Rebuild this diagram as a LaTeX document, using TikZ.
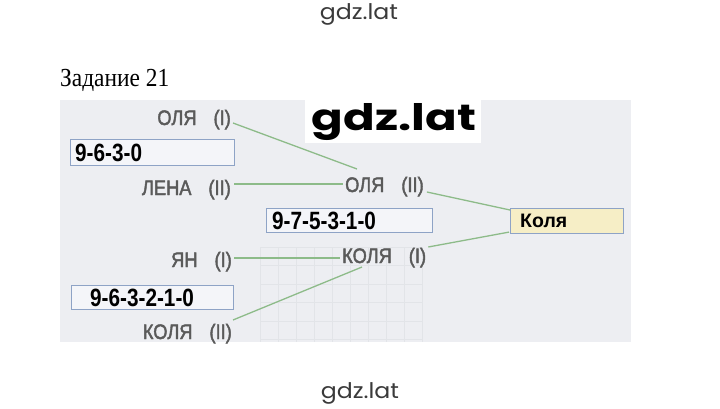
\documentclass[tikz,border=0pt]{standalone}
\usepackage{fontspec}
\usetikzlibrary{calc}
\newfontfamily\labfont[FakeStretch=0.87,FakeBold=2]{Liberation Sans}
\newfontfamily\numfont[FakeStretch=0.83]{Liberation Sans}
\newfontfamily\kolfont{Liberation Sans}
\newfontfamily\serfont[FakeStretch=0.9]{Liberation Serif}
\newfontfamily\wmfont[FakeStretch=1.1]{Poppins}
\newfontfamily\wmbigfont[FakeStretch=1.28]{Poppins}
\definecolor{photobg}{HTML}{EDEEF2}
\definecolor{gridc}{HTML}{E2E4E8}
\definecolor{labgray}{HTML}{5A5A5A}
\definecolor{boxblue}{HTML}{8EA3C6}
\definecolor{boxfill}{HTML}{F4F5F9}
\definecolor{kolfill}{HTML}{F6EEC6}
\definecolor{linkgreen}{HTML}{8DBB89}
\definecolor{wmgray}{HTML}{3A3A3A}
\tikzset{
  lab/.style={font=\labfont\fontsize{21}{24}\selectfont, text=labgray, inner sep=0pt},
  numbox/.style={draw=boxblue, fill=boxfill, line width=1.1pt, anchor=north west, inner sep=0pt},
  numtext/.style={font=\numfont\bfseries\fontsize{25}{28}\selectfont, text=black, inner sep=0pt, anchor=west},
  link/.style={draw=linkgreen, line width=1.3pt},
  wmsmall/.style={font=\wmfont\fontsize{21.5}{24}\selectfont, text=wmgray, inner sep=0pt, anchor=base},
}
\newcommand{\gapI}{\hspace{17pt}}
\begin{document}
\begin{tikzpicture}[x=1pt,y=-1pt]
\useasboundingbox (0,0) rectangle (720,409);
\fill[white] (0,0) rectangle (720,409);
% photo background
\fill[photobg] (60,100) rectangle (631,342);
% faint grid
\foreach \gx in {260,278,...,422} \draw[gridc, line width=0.6pt] (\gx,247) -- (\gx,342);
\foreach \gy in {247,265.5,...,342} \draw[gridc, line width=0.6pt] (260,\gy) -- (422,\gy);

% watermarks
\node[wmsmall] (wmtop) at (359,20) {gdz.lat};
\node[wmsmall] (wmbot) at (360,398) {gdz.lat};
\fill[white] (305,99) rectangle (481,143);
\node[font=\wmbigfont\bfseries\fontsize{36.5}{40}\selectfont, text=black, inner sep=0pt, anchor=base] (wmmid) at (394,131) {gdz.lat};

% title
\node[font=\serfont\fontsize{26}{30}\selectfont, inner sep=0pt, anchor=base west] (title) at (60,87) {Задание 21};

% left labels
\node[lab, anchor=base east] (olya1) at (231,125) {ОЛЯ\gapI(I)};
\node[lab, anchor=base east] (lena) at (231,195) {ЛЕНА\gapI(II)};
\node[lab, anchor=base east] (yan) at (232,267) {ЯН\gapI(I)};
\node[lab, anchor=base east] (kolya2) at (232,339) {КОЛЯ\gapI(II)};
% middle labels
\node[lab, anchor=base west] (olya2) at (345,192) {ОЛЯ\gapI(II)};
\node[lab, anchor=base west] (kolya1) at (342,263) {КОЛЯ\gapI(I)};

% number boxes
\node[numbox, minimum width=164pt, minimum height=26pt] (b1) at (70,139) {};
\node[numtext] (t1) at ($(b1.west)+(5,0)$) {9-6-3-0};
\node[numbox, minimum width=166pt, minimum height=24pt] (b2) at (266,208) {};
\node[numtext] (t2) at ($(b2.west)+(6,0)$) {9-7-5-3-1-0};
\node[numbox, minimum width=162pt, minimum height=24pt] (b3) at (71,285) {};
\node[numtext] (t3) at ($(b3.west)+(19,0)$) {9-6-3-2-1-0};
\node[numbox, fill=kolfill, minimum width=113pt, minimum height=25pt] (b4) at (510,208) {};
\node[font=\kolfont\bfseries\fontsize{19.5}{22}\selectfont, inner sep=0pt, anchor=west] (t4) at ($(b4.west)+(10,0)$) {Коля};

% connectors
\draw[link] ($(olya1.base east)+(2,-2)$) -- ($(olya2.base west)+(12,-23)$);
\draw[link] ($(lena.base east)+(3,-11)$) -- ($(olya2.base west)+(-2,-8)$);
\draw[link] ($(olya2.base east)+(3,0)$) -- ($(b4.north west)+(0,2)$);
\draw[link] ($(kolya1.base east)+(2,-16)$) -- ($(b4.south west)+(-1,-2)$);
\draw[link] ($(yan.base east)+(2,-9)$) -- ($(kolya1.base west)+(-2,-5)$);
\draw[link] ($(kolya2.base east)+(1,-19)$) -- ($(kolya1.base west)+(20,4)$);
\end{tikzpicture}
\end{document}
